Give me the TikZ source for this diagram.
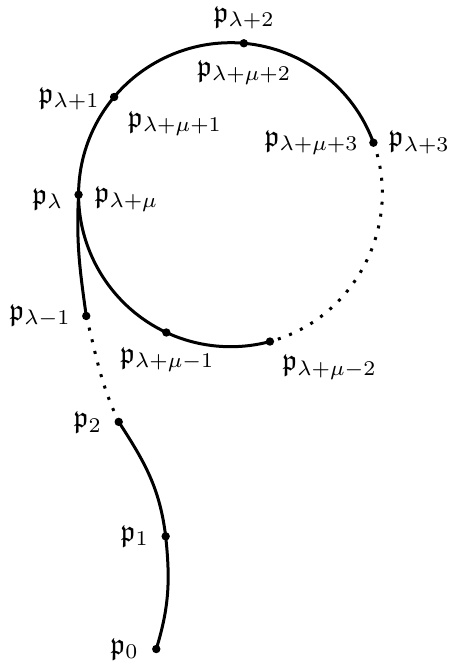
\documentclass[tikz,border=0pt]{standalone}
\usepackage{amsmath,amssymb}
\usepackage{tikz}
\usetikzlibrary{calc}
\newcommand{\looprad}{1.78}
\tikzset{
  curve/.style={line width=1pt},
  gapcurve/.style={line width=1pt,dash pattern=on 1pt off 3pt},
  lbl/.style={inner sep=0pt}
}

\begin{document}
\begin{tikzpicture}
  \useasboundingbox (0,0) rectangle (5.246,7.740);
  \coordinate (c) at (2.70,5.46);
  % tail
  \coordinate (p0) at (1.83,0.14);
  \coordinate (p1) at (1.94,1.46);
  \coordinate (p2) at (1.39,2.80);
  \coordinate (lm1) at (1.01,4.04);
  % loop
  \coordinate (l) at ($(c)+(180:\looprad)$);
  \coordinate (l1) at ($(c)+(140:\looprad)$);
  \coordinate (l2) at ($(c)+(85:\looprad)$);
  \coordinate (l3) at ($(c)+(20:\looprad)$);
  \coordinate (mm2) at ($(c)+(-75:\looprad)$);
  \coordinate (mm1) at ($(c)+(-115:\looprad)$);

  \draw[curve] (p0) to[out=73,in=-84] (p1) to[out=97,in=-57] (p2);
  \draw[gapcurve] (p2) to[out=115,in=-76] (lm1);
  \draw[curve] (lm1) to[out=98,in=-93] (l);
  \draw[curve] (l) to[out=90,in=230,looseness=0.88] (l1)
    to[out=50,in=175,looseness=0.9] (l2)
    to[out=-5,in=110,looseness=0.92] (l3);
  \draw[gapcurve] (l3) to[out=-70,in=15] (mm2);
  \draw[curve] (mm2) to[out=-165,in=-25,looseness=0.88] (mm1)
    to[out=155,in=270,looseness=0.92] (l);

  \foreach \q in {p0,p1,p2,lm1,l,l1,l2,l3,mm2,mm1}
    \fill (\q) circle (1.4pt);

  % labels
  \node[lbl] (t0) at (1.46,0.14) {$\mathfrak{p}_0$};
  \node[lbl] (t1) at (1.58,1.46) {$\mathfrak{p}_1$};
  \node[lbl] (t2) at (1.03,2.79) {$\mathfrak{p}_2$};
  \node[lbl] (tlm1) at (0.47,4.04) {$\mathfrak{p}_{\lambda-1}$};
  \node[lbl] (tl) at (0.56,5.41) {$\mathfrak{p}_{\lambda}$};
  \node[lbl] (tm) at (1.48,5.41) {$\mathfrak{p}_{\lambda+\mu}$};
  \node[lbl] (tl1) at (0.81,6.58) {$\mathfrak{p}_{\lambda+1}$};
  \node[lbl] (tm1) at (2.05,6.29) {$\mathfrak{p}_{\lambda+\mu+1}$};
  \node[lbl] (tl2) at (2.86,7.53) {$\mathfrak{p}_{\lambda+2}$};
  \node[lbl] (tm2) at (2.86,6.89) {$\mathfrak{p}_{\lambda+\mu+2}$};
  \node[lbl] (tl3) at (4.91,6.07) {$\mathfrak{p}_{\lambda+3}$};
  \node[lbl] (tm3) at (3.65,6.07) {$\mathfrak{p}_{\lambda+\mu+3}$};
  \node[lbl] (tmm1) at (1.96,3.53) {$\mathfrak{p}_{\lambda+\mu-1}$};
  \node[lbl] (tmm2) at (3.86,3.44) {$\mathfrak{p}_{\lambda+\mu-2}$};
\end{tikzpicture}
\end{document}
